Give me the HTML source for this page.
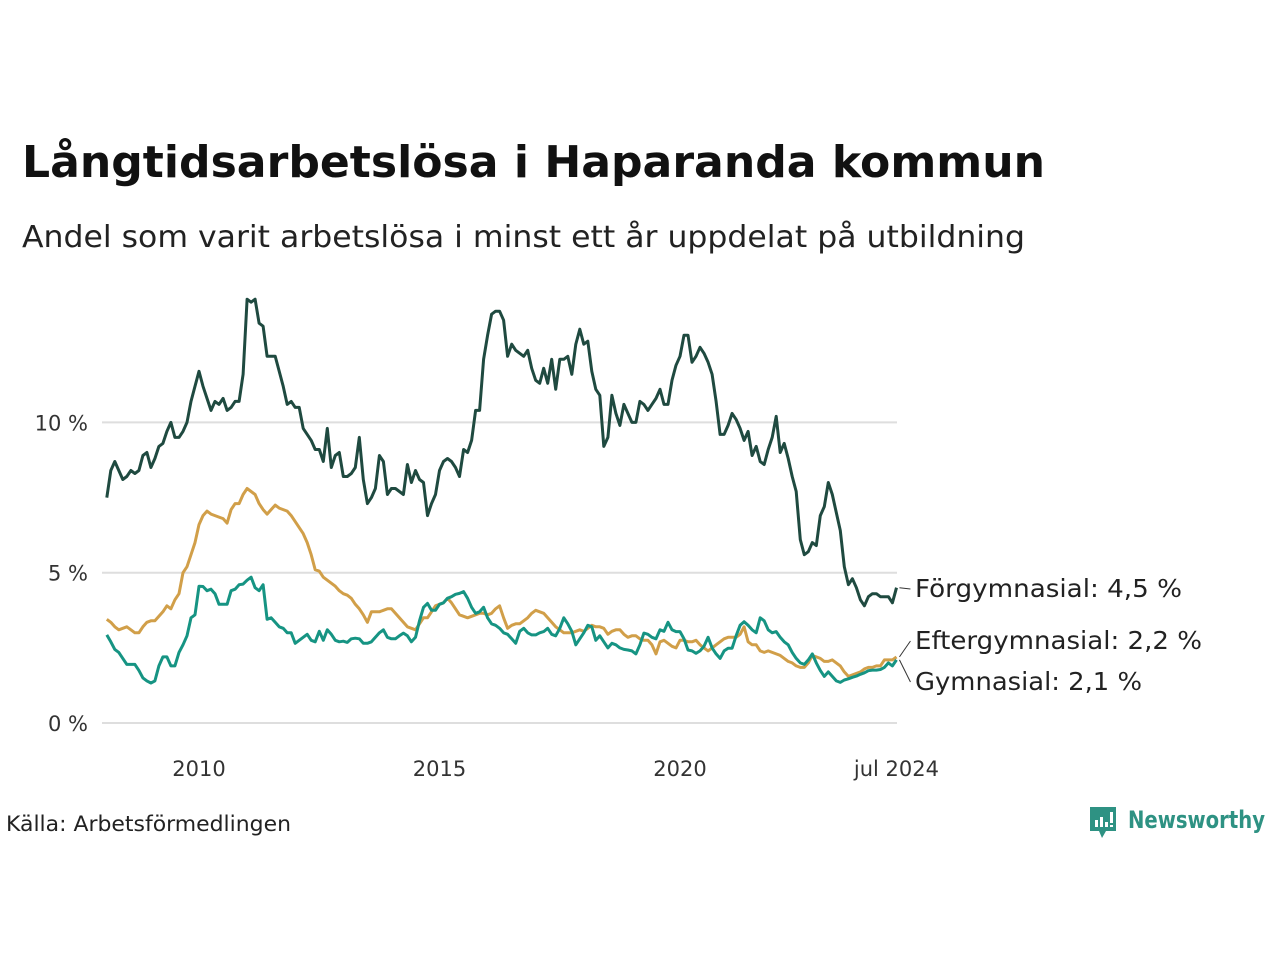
<!DOCTYPE html>
<html><head><meta charset="utf-8">
<style>
body{margin:0;background:#fff;}
svg text{font-family:"DejaVu Sans","Liberation Sans",sans-serif;}
</style></head>
<body>
<svg id="chart" width="1280" height="960" viewBox="0 0 1280 960" xmlns="http://www.w3.org/2000/svg">
<rect width="1280" height="960" fill="#fff"/>
<text x="22" y="177" font-size="44" font-weight="bold" fill="#111" textLength="1023" lengthAdjust="spacingAndGlyphs">Långtidsarbetslösa i Haparanda kommun</text>
<text x="22" y="247" font-size="30" fill="#222" textLength="1003" lengthAdjust="spacingAndGlyphs">Andel som varit arbetslösa i minst ett år uppdelat på utbildning</text>
<g id="grid"></g><g id="yticks"></g><g id="xticks"></g><g id="lines"></g><g id="labels"></g>
<text x="6" y="831" font-size="21" fill="#222" textLength="285" lengthAdjust="spacingAndGlyphs">Källa: Arbetsförmedlingen</text>
<g>
<path d="M1090 807 h26 v24 h-10 l-4 7 l-3 -7 h-9 z" fill="#2e9283"/>
<rect x="1095" y="820" width="3" height="7" fill="#fff"/><rect x="1100" y="817" width="3" height="10" fill="#fff"/><rect x="1105" y="822" width="3" height="5" fill="#fff"/><rect x="1110" y="812" width="3" height="11" fill="#fff"/><rect x="1110" y="825" width="3" height="2" fill="#fff"/>
<text x="1128" y="828" font-size="24" font-weight="bold" fill="#2e9283" textLength="137" lengthAdjust="spacingAndGlyphs">Newsworthy</text>
</g>
</svg>
<script>
const startYear = 2008 + 1/12; // Feb 2008
const endYear = 2024 + 6/12;   // Jul 2024
const yTicks = [0, 5, 10];
const yTickLabels = ["0 %", "5 %", "10 %"];
const xTicks = [2010, 2015, 2020, 2024.5];
const xTickLabels = ["2010", "2015", "2020", "jul 2024"];
const forgymnasial = [7.5,8.4,8.7,8.4,8.1,8.2,8.4,8.3,8.4,8.9,9.0,8.5,8.8,9.2,9.3,9.7,10.0,9.5,9.5,9.7,10.0,10.7,11.2,11.7,11.2,10.8,10.4,10.7,10.6,10.8,10.4,10.5,10.7,10.7,11.6,14.1,14.0,14.1,13.3,13.2,12.2,12.2,12.2,11.7,11.2,10.6,10.7,10.5,10.5,9.8,9.6,9.4,9.1,9.1,8.7,9.8,8.5,8.9,9.0,8.2,8.2,8.3,8.5,9.5,8.1,7.3,7.5,7.8,8.9,8.7,7.6,7.8,7.8,7.7,7.6,8.6,8.0,8.4,8.1,8.0,6.9,7.3,7.6,8.4,8.7,8.8,8.7,8.5,8.2,9.1,9.0,9.4,10.4,10.4,12.1,12.9,13.6,13.7,13.7,13.4,12.2,12.6,12.4,12.3,12.2,12.4,11.8,11.4,11.3,11.8,11.3,12.1,11.1,12.1,12.1,12.2,11.6,12.6,13.1,12.6,12.7,11.7,11.1,10.9,9.2,9.5,10.9,10.3,9.9,10.6,10.3,10.0,10.0,10.7,10.6,10.4,10.6,10.8,11.1,10.6,10.6,11.4,11.9,12.2,12.9,12.9,12.0,12.2,12.5,12.3,12.0,11.6,10.7,9.6,9.6,9.9,10.3,10.1,9.8,9.4,9.7,8.9,9.2,8.7,8.6,9.1,9.5,10.2,9.0,9.3,8.8,8.2,7.7,6.1,5.6,5.7,6.0,5.9,6.9,7.2,8.0,7.6,7.0,6.4,5.2,4.6,4.8,4.5,4.1,3.9,4.2,4.3,4.3,4.2,4.2,4.2,4.0,4.5];
const eftergymnasial = [3.45,3.35,3.2,3.1,3.15,3.2,3.1,3.0,3.0,3.2,3.35,3.4,3.4,3.55,3.7,3.9,3.8,4.1,4.3,5.0,5.2,5.6,6.0,6.6,6.9,7.05,6.95,6.9,6.85,6.8,6.65,7.1,7.3,7.3,7.6,7.8,7.7,7.6,7.3,7.1,6.95,7.1,7.25,7.15,7.1,7.05,6.9,6.7,6.5,6.3,6.0,5.6,5.1,5.05,4.85,4.75,4.65,4.55,4.4,4.3,4.25,4.15,3.95,3.8,3.6,3.35,
3.7,3.7,3.7,3.75,3.8,3.8,3.65,3.5,3.35,3.2,3.15,3.1,3.3,3.5,3.5,3.7,3.9,3.95,4.0,4.15,4.0,3.8,3.6,3.55,3.5,3.55,3.6,3.65,3.65,3.6,3.65,3.8,3.9,3.5,3.15,3.25,3.3,3.3,3.4,3.5,3.65,3.75,3.7,3.65,3.5,3.35,3.2,3.1,3.0,3.0,3.0,3.05,3.1,3.05,3.15,3.25,3.2,3.2,3.15,2.95,3.05,3.1,3.1,2.95,2.85,
2.9,2.9,2.8,2.75,2.75,2.6,2.3,2.7,2.75,2.65,2.55,2.5,2.75,2.75,2.7,2.7,2.75,2.6,2.5,2.4,2.5,2.6,2.7,2.8,2.85,2.85,2.85,2.95,3.2,2.7,2.6,2.6,2.4,2.35,2.4,2.35,2.3,2.25,2.15,2.05,2.0,1.9,1.85,1.85,2.0,2.25,2.2,2.15,2.05,2.05,2.1,2.0,1.9,1.7,1.55,1.6,1.65,1.7,1.8,1.85,1.85,1.9,1.9,2.1,2.1,2.1,2.2];
const gymnasial = [2.93,2.7,2.45,2.35,2.15,1.95,1.95,1.95,1.75,1.5,1.4,1.33,1.4,1.9,2.2,2.2,1.9,1.9,2.35,2.6,2.9,3.5,3.6,4.55,4.54,4.4,4.45,4.3,3.95,3.95,3.95,4.4,4.45,4.6,4.62,4.75,4.85,4.5,4.4,4.6,3.45,3.5,3.35,3.2,3.15,3.0,3.0,2.65,2.75,2.85,2.95,2.75,2.7,3.05,2.75,3.1,2.95,2.75,2.7,2.72,2.68,2.8,2.82,2.8,2.65,2.65,
2.7,2.85,3.0,3.1,2.85,2.8,2.8,2.9,2.99,2.9,2.7,2.85,3.4,3.85,3.98,3.75,3.75,3.95,4.0,4.15,4.2,4.28,4.31,4.37,4.15,3.85,3.65,3.7,3.85,3.5,3.3,3.25,3.15,3.0,2.95,2.8,2.65,3.05,3.15,3.0,2.93,2.93,3.0,3.04,3.15,2.95,2.9,3.15,3.5,3.3,3.05,2.6,2.8,3.0,3.25,3.2,2.75,2.9,2.7,2.5,2.65,2.6,2.5,2.45,2.43,
2.4,2.3,2.6,2.99,2.95,2.85,2.8,3.1,3.05,3.35,3.1,3.04,3.04,2.8,2.43,2.4,2.32,2.4,2.55,2.85,2.5,2.3,2.15,2.4,2.49,2.49,2.9,3.25,3.37,3.25,3.1,3.0,3.5,3.4,3.1,3.0,3.04,2.85,2.7,2.6,2.35,2.15,2.0,1.95,2.1,2.3,2.0,1.75,1.55,1.7,1.55,1.4,1.35,1.43,1.47,1.52,1.56,1.62,1.67,1.74,1.76,1.76,1.78,1.85,2.0,1.9,2.1];

const NS = "http://www.w3.org/2000/svg";
const X0 = 102, X1 = 897;
function xScale(yr){ return 199 + (yr - 2010) * 48.1; }
function yScale(v){ return 723 - v * 30.06; }
function mk(tag, attrs, parent){ const e = document.createElementNS(NS, tag); for (const k in attrs) e.setAttribute(k, attrs[k]); parent.appendChild(e); return e; }

const grid = document.getElementById('grid');
const yt = document.getElementById('yticks');
yTicks.forEach((t, i) => {
  const l = mk('line', {x1: X0, x2: X1, y1: yScale(t), y2: yScale(t), stroke: '#dedede', 'stroke-width': 2}, grid);
  
  
  const tx = mk('text', {x: 88, y: yScale(t) + 8, 'text-anchor': 'end', 'font-size': 21, fill: '#333'}, yt);
  tx.textContent = yTickLabels[i];
  
  
});
const xt = document.getElementById('xticks');
xTicks.forEach((t, i) => {
  const tx = mk('text', {x: xScale(t), y: 776, 'text-anchor': 'middle', 'font-size': 21, fill: '#333'}, xt);
  tx.textContent = xTickLabels[i];
  
  
});

const lines = document.getElementById('lines');
function drawSeries(vals, color, name){
  const n = vals.length;
  const d = vals.map((v, i) => (i ? 'L' : 'M') + xScale(startYear + i * (endYear - startYear) / (n - 1)).toFixed(1) + ' ' + yScale(v).toFixed(1)).join(' ');
  const p = mk('path', {d: d, fill: 'none', stroke: color, 'stroke-width': 3, 'stroke-linejoin': 'round'}, lines);
  
  
}
drawSeries(eftergymnasial, '#d19f49', 'line-eftergymnasial');
drawSeries(gymnasial, '#169483', 'line-gymnasial');
drawSeries(forgymnasial, '#1f4a40', 'line-forgymnasial');

const lab = document.getElementById('labels');
const xe = xScale(endYear);
function endLabel(val, ly, text, name, w){
  const ln = mk('line', {x1: xe + 3, y1: yScale(val), x2: xe + 14, y2: ly - 8, stroke: '#333', 'stroke-width': 1}, lab);
  
  
  const t = mk('text', {x: 915, y: ly, 'font-size': 25, fill: '#222', textLength: w, lengthAdjust: 'spacingAndGlyphs'}, lab);
  t.textContent = text;
  
  
}
endLabel(forgymnasial[forgymnasial.length-1], 597, 'Förgymnasial: 4,5 %', 'label-forgymnasial', 267);
endLabel(eftergymnasial[eftergymnasial.length-1], 649, 'Eftergymnasial: 2,2 %', 'label-eftergymnasial', 287);
endLabel(gymnasial[gymnasial.length-1], 690, 'Gymnasial: 2,1 %', 'label-gymnasial', 227);
</script>
</body></html>
